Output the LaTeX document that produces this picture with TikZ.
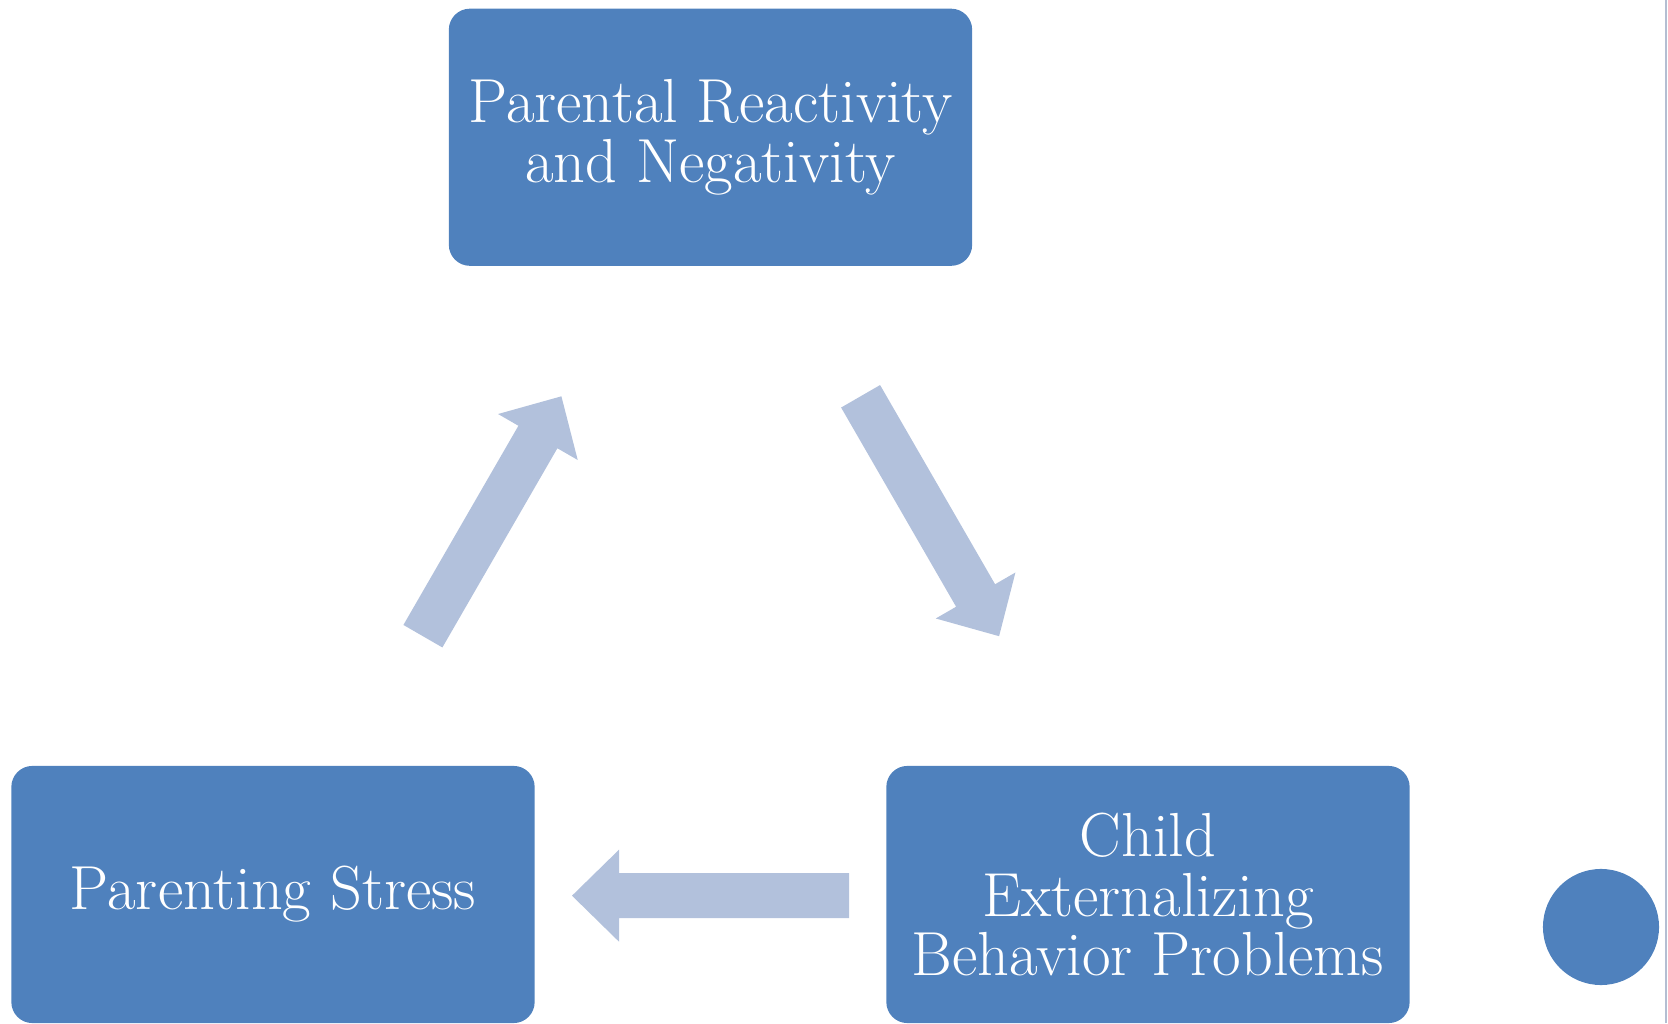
\documentclass[tikz,border=0pt]{standalone}
\usetikzlibrary{calc,positioning}

\definecolor{boxblue}{RGB}{79,129,189}
\definecolor{arrowblue}{RGB}{178,193,220}
\definecolor{edgegray}{RGB}{180,190,210}

\tikzset{
  cyclebox/.style={fill=boxblue, rounded corners=0.21cm, minimum width=5.23cm,
    minimum height=2.57cm, text=white, align=center, inner sep=0pt,
    font=\fontsize{17.7}{16.8}\selectfont},
  blockarrow/.style={fill=arrowblue},
}

\begin{document}
\begin{tikzpicture}[x=0.01cm, y=0.01cm]
\useasboundingbox (0,0) rectangle (1668,1023);

% three boxes of the cycle
\node[cyclebox] (reactBox) at (710.5,885.75) {Parental Reactivity\\and Negativity};
\node[cyclebox] (stressBox) at (273,128.5) {Parenting Stress};
\node[cyclebox] (childBox) at (1148,128.5) {Child\\Externalizing\\Behavior Problems};

% block arrows between them
\foreach \tx/\ty/\ang in {422.9/386.8/60, 860.6/626.7/-60, 849/127.3/180}
{
    \begin{scope}[shift={(\tx,\ty)}, rotate=\ang]
    \coordinate (aTail1) at (0,-22.5);
    \coordinate (aNeck1) at (230,-22.5);
    \coordinate (aBarb1) at (230,-46);
    \coordinate (aTip) at (277,0);
    \coordinate (aBarb2) at (230,46);
    \coordinate (aNeck2) at (230,22.5);
    \coordinate (aTail2) at (0,22.5);

    \fill[blockarrow] (aTail1)--(aNeck1)--(aBarb1)--(aTip)--(aBarb2)--(aNeck2)--(aTail2)--cycle;
    \end{scope}
}

% dot and right edge
\node[circle, fill=boxblue, minimum size=1.16cm, inner sep=0pt] (dot) at (1601,96) {};
\draw[edgegray, line width=0.8pt] (1666,0) -- (1666,1023);

\end{tikzpicture}
\end{document}
